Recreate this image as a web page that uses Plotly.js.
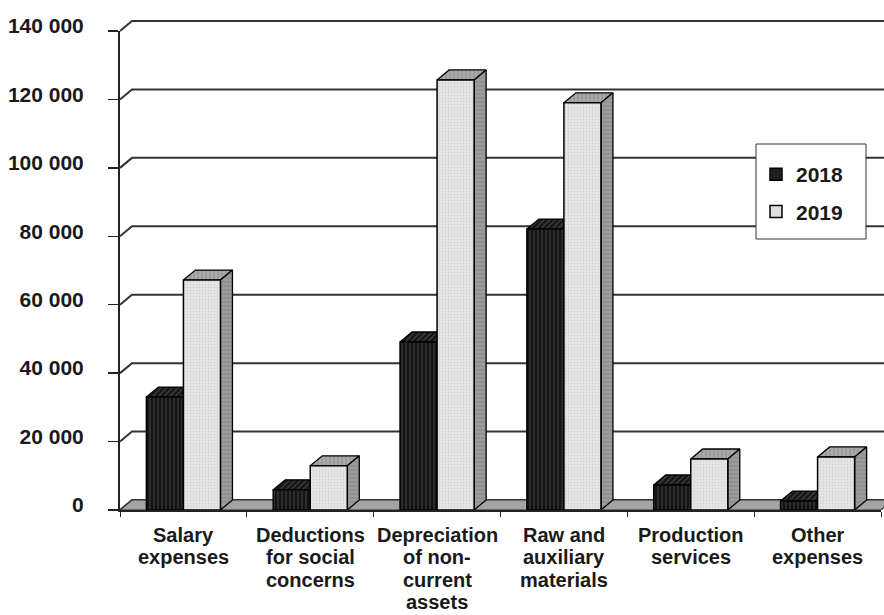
<!DOCTYPE html>
<html>
<head>
<meta charset="utf-8">
<script src="https://cdn.plot.ly/plotly-3.0.1.min.js"></script>
<style>
  html, body { margin: 0; padding: 0; background: #ffffff; }
  #chart { width: 884px; height: 615px; }
</style>
</head>
<body>
<div id="chart"></div>
<script>
// ---- data ----
const categories = [
  "Salary<br>expenses",
  "Deductions<br>for social<br>concerns",
  "Depreciation<br>of non-<br>current<br>assets",
  "Raw and<br>auxiliary<br>materials",
  "Production<br>services",
  "Other<br>expenses"
];
const seriesNames = ["2018", "2019"];
const values2018 = [33000, 5900, 49100, 82100, 7300, 2600];
const values2019 = [67200, 12900, 125700, 119000, 14900, 15500];
const yTickValues = [0, 20000, 40000, 60000, 80000, 100000, 120000, 140000];
const yTickLabels = ["0", "20 000", "40 000", "60 000", "80 000", "100 000", "120 000", "140 000"];

// ---- geometry (pixels) ----
const W = 884, H = 615;
const plotLeft = 120, plotRight = 881;
const zeroPx = 510, topPx = 31, backTopPx = 16;
const depthX = 12, depthY = 10;
const yMax = 140000;
const bargap = 0.416;

const k = (zeroPx - topPx) / yMax;           // px per value unit
const pxPerCat = (plotRight - plotLeft) / categories.length;
const dxu = depthX / pxPerCat;                // depth in category units
const off = depthY / k;                       // depth in value units
const barW = (1 - bargap) / 2;
const xBackMax = -0.5 + (W - plotLeft) / pxPerCat;

const FONT = "Liberation Sans, Arial, Helvetica, sans-serif";
const TXT = "#1a1a1a";

// ---- back wall: gridlines with diagonal side-wall segments ----
const gx = [], gy = [];
yTickValues.forEach(v => {
  gx.push(-0.5, -0.5 + dxu, xBackMax, null);
  gy.push(v, v + off, v + off, null);
});

// floor
const nCat = categories.length;
const floorX = [-0.5, nCat - 0.5, nCat - 0.5 + dxu, -0.5 + dxu, -0.5];
const floorY = [0, 0, off, off, 0];

// 3D faces of bars
const top18x = [], top18y = [], top19x = [], top19y = [], side19x = [], side19y = [];
for (let i = 0; i < nCat; i++) {
  const a = values2018[i], b = values2019[i];
  let xl = i - barW, xr = i;
  top18x.push(xl, xl + dxu, xr, xr, xl, null);
  top18y.push(a, a + off, a + off, a, a, null);
  xl = i; xr = i + barW;
  top19x.push(xl, xl + dxu, xr + dxu, xr, xl, null);
  top19y.push(b, b + off, b + off, b, b, null);
  side19x.push(xr, xr, xr + dxu, xr + dxu, xr, null);
  side19y.push(0, b, b + off, off, 0, null);
}

const traces = [
  { type: "scatter", mode: "lines", x: gx, y: gy, xaxis: "x", yaxis: "y",
    line: { color: "#333333", width: 2 }, hoverinfo: "skip", showlegend: false, connectgaps: false },
  { type: "scatter", mode: "lines", x: floorX, y: floorY, xaxis: "x", yaxis: "y",
    fill: "toself", fillcolor: "#a3a3a3", line: { color: "#333", width: 1.2 },
    hoverinfo: "skip", showlegend: false },
  { type: "scatter", mode: "lines", x: top18x, y: top18y, xaxis: "x", yaxis: "y",
    fill: "toself", fillcolor: "#1a1a1a",
    fillpattern: { shape: "/", bgcolor: "#151515", fgcolor: "#444", size: 4, solidity: 0.3 },
    line: { color: "#000", width: 1.3 }, hoverinfo: "skip", showlegend: false },
  { type: "scatter", mode: "lines", x: top19x, y: top19y, xaxis: "x", yaxis: "y",
    fill: "toself", fillcolor: "#a8a8a8",
    fillpattern: { shape: "|", bgcolor: "#aaaaaa", fgcolor: "#939393", size: 4, solidity: 0.3 },
    line: { color: "#000", width: 1.3 }, hoverinfo: "skip", showlegend: false },
  { type: "scatter", mode: "lines", x: side19x, y: side19y, xaxis: "x", yaxis: "y",
    fill: "toself", fillcolor: "#999999",
    fillpattern: { shape: "-", bgcolor: "#9c9c9c", fgcolor: "#8a8a8a", size: 4, solidity: 0.3 },
    line: { color: "#000", width: 1.3 }, hoverinfo: "skip", showlegend: false },
  { type: "bar", name: seriesNames[0], x: categories, y: values2018, xaxis: "x2", yaxis: "y2",
    legendgroup: "a",
    marker: { color: "#141414", line: { color: "#000", width: 1.5 },
      pattern: { shape: "|", bgcolor: "#141414", fgcolor: "#363636", size: 4, solidity: 0.35 } },
    hoverinfo: "skip" },
  { type: "bar", name: seriesNames[1], x: categories, y: values2019, xaxis: "x2", yaxis: "y2",
    legendgroup: "b",
    marker: { color: "#e6e6e6", line: { color: "#000", width: 1.5 },
      pattern: { shape: ".", bgcolor: "#e8e8e8", fgcolor: "#d2d2d2", size: 3, solidity: 0.3 } },
    hoverinfo: "skip" }
];

// category labels as per-line annotations (tight line spacing)
const annotations = [];
const lineGap = 22.3, firstLinePx = 535;
categories.forEach((c, i) => {
  c.split("<br>").forEach((line, j) => {
    annotations.push({
      x: categories[i], xref: "x2", y: 1 - (firstLinePx + j * lineGap) / H, yref: "paper",
      text: line, showarrow: false, xanchor: "center", yanchor: "middle", borderpad: 0,
      font: { family: FONT, size: 20, color: TXT, weight: "bold" }
    });
  });
});

const layout = {
  width: W, height: H,
  margin: { l: 0, r: 0, t: 0, b: 0, pad: 0 },
  paper_bgcolor: "#ffffff",
  plot_bgcolor: "rgba(0,0,0,0)",
  barmode: "group", bargap: bargap, bargroupgap: 0,
  showlegend: true,
  legend: {
    x: 756 / W, xanchor: "left", y: 1 - 154 / H, yanchor: "top",
    bgcolor: "rgba(0,0,0,0)", borderwidth: 0, tracegroupgap: 7,
    font: { family: FONT, size: 21, color: TXT, weight: "bold" }
  },
  xaxis: { domain: [plotLeft / W, 1], range: [-0.5, xBackMax], visible: false, fixedrange: true },
  yaxis: { domain: [(H - zeroPx) / H, (H - backTopPx) / H], range: [0, (zeroPx - backTopPx) / k],
           visible: false, fixedrange: true },
  xaxis2: {
    domain: [plotLeft / W, plotRight / W], anchor: "y2", type: "category",
    showline: true, linecolor: "#222", linewidth: 2, mirror: false,
    ticks: "outside", tickson: "boundaries", ticklen: 5, tickwidth: 1, tickcolor: "#222",
    showticklabels: false, showgrid: false, zeroline: false, fixedrange: true
  },
  yaxis2: {
    domain: [(H - zeroPx) / H, (H - topPx) / H], anchor: "x2", range: [0, yMax],
    tickmode: "array", tickvals: yTickValues, ticktext: yTickLabels,
    ticks: "outside", ticklen: 10, tickwidth: 1.5, tickcolor: "#222",
    showline: true, linecolor: "#222", linewidth: 2,
    showgrid: false, zeroline: false, fixedrange: true,
    ticklabelstandoff: 20, ticklabelshift: -5,
    tickfont: { family: FONT, size: 21, color: TXT, weight: "bold" }
  },
  shapes: [
    { type: "rect", xref: "paper", yref: "paper", layer: "above",
      x0: 756 / W, x1: 866 / W, y0: 1 - 239 / H, y1: 1 - 144 / H,
      fillcolor: "#ffffff", line: { color: "#333", width: 1 } }
  ],
  annotations: annotations
};

Plotly.newPlot("chart", traces, layout, { displayModeBar: false, staticPlot: true });
</script>
</body>
</html>
